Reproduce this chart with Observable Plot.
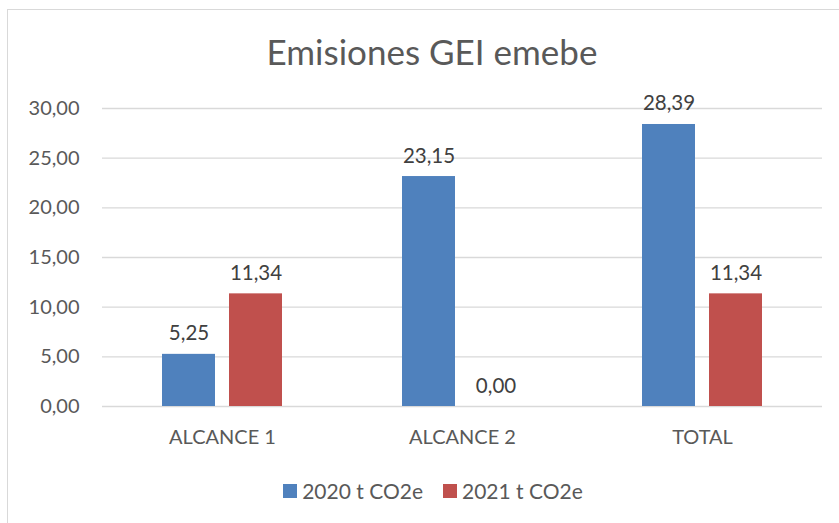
<!DOCTYPE html>
<html>
<head>
<meta charset="utf-8">
<script src="https://cdn.jsdelivr.net/npm/d3@7"></script>
<script src="https://cdn.jsdelivr.net/npm/@observablehq/plot@0.6"></script>
<style>
  html, body { margin: 0; padding: 0; background: #fff; }
  #wrap { position: relative; width: 839px; height: 523px; overflow: hidden; font-family: Lato, "Open Sans", sans-serif; color: #595959; }
  #frame { position: absolute; left: 7px; top: 9px; width: 900px; height: 600px; border: 1.5px solid #d9d9d9; box-sizing: border-box; }
  #title { position: absolute; left: 0; width: 864px; top: 30px; text-align: center; font-size: 35px; line-height: 42px; }
  #chart { position: absolute; left: 0; top: 0; }
  #legend { position: absolute; top: 479px; left: 0; width: 866px; display: flex; justify-content: center; gap: 20px; font-size: 21px; line-height: 24px; }
  .item { display: flex; align-items: center; gap: 5px; }
  .sw { width: 14px; height: 14px; display: inline-block; }
</style>
</head>
<body>
<div id="wrap">
  <div id="frame"></div>
  <div id="title">Emisiones GEI emebe</div>
  <div id="chart"></div>
  <div id="legend"></div>
</div>
<script>
const categories = ["ALCANCE 1", "ALCANCE 2", "TOTAL"];
const seriesNames = ["2020 t CO2e", "2021 t CO2e"];
const values2020 = [5.25, 23.15, 28.39];
const values2021 = [11.34, 0.00, 11.34];
const yTicks = [0, 5, 10, 15, 20, 25, 30];
const colors = ["#4F81BD", "#C0504D"];

const fmt = v => v.toFixed(2).replace(".", ",");
const data = [];
categories.forEach((c, i) => {
  data.push({cat: c, series: seriesNames[0], value: values2020[i]});
  data.push({cat: c, series: seriesNames[1], value: values2021[i]});
});

const chart = Plot.plot({
  width: 839,
  height: 523,
  marginLeft: 102,
  marginRight: 17,
  marginTop: 108,
  marginBottom: 117,
  style: {fontFamily: "Lato, 'Open Sans', sans-serif", color: "#595959", background: "transparent"},
  fx: {domain: categories, padding: 0, label: null},
  x: {domain: seriesNames, paddingInner: 0.206, paddingOuter: 0.868, axis: null},
  y: {domain: [0, 30], label: null},
  color: {domain: seriesNames, range: colors},
  marks: [
    Plot.ruleY(yTicks, {stroke: "#d9d9d9", strokeWidth: 1.3}),
    Plot.barY(data, {fx: "cat", x: "series", y: "value", fill: "series"}),
    Plot.text(data, {fx: "cat", x: "series", y: "value", text: d => fmt(d.value), dy: -14, lineAnchor: "bottom", fontSize: 20.5, fill: "#404040"}),
    Plot.axisY({ticks: yTicks, tickFormat: fmt, tickSize: 0, tickPadding: 23, fontSize: 20, fill: "#595959", label: null}),
    Plot.axisFx({anchor: "bottom", tickSize: 0, tickPadding: 23, fontSize: 20, fill: "#595959", label: null})
  ]
});
document.getElementById("chart").appendChild(chart);

const legend = document.getElementById("legend");
seriesNames.forEach((s, i) => {
  const item = document.createElement("div");
  item.className = "item";
  const sw = document.createElement("span");
  sw.className = "sw";
  sw.style.background = colors[i];
  const t = document.createElement("span");
  t.textContent = s;
  item.appendChild(sw);
  item.appendChild(t);
  legend.appendChild(item);
});
</script>
</body>
</html>
